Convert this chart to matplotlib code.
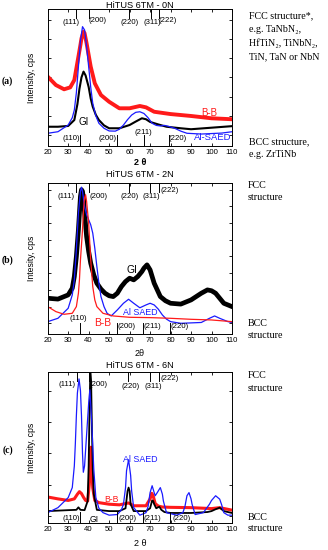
import matplotlib
matplotlib.use("Agg")
import matplotlib.pyplot as plt

# ---------------------------------------------------------------------------
# Data (intensity in arbitrary tick units)
# ---------------------------------------------------------------------------

FCC_HKL = ["(111)", "(200)", "(220)", "(311)", "(222)"]
BCC_HKL = ["(110)", "(200)", "(211)", "(220)"]

# panel (a) : HiTUS 6TM - 0N
A_BB_X = [20, 24, 28, 31, 33, 35, 36, 36.5, 37.5, 38, 39, 41, 43, 46, 50, 55, 60,
          65, 68, 72, 80, 90, 100, 110]
A_BB_Y = [3.04, 2.6, 2.38, 2.48, 2.86, 4.08, 4.7, 5.03, 5.38, 5.3, 4.77, 3.56,
          2.69, 2.08, 1.73, 1.39, 1.39, 1.51, 1.44, 1.21, 1.09, 0.99, 0.87, 0.82]
A_GI_X = [20, 25, 30, 33, 34.5, 35.5, 36.5, 37.5, 38.5, 40, 41, 42, 43.5, 45,
          47.5, 50, 55, 60, 63, 66, 68, 70, 74, 78, 85, 90, 100, 110]
A_GI_Y = [0.43, 0.43, 0.47, 0.78, 1.6, 2.4, 3.0, 3.3, 3.1, 2.5, 1.9, 1.47, 1.05,
          0.78, 0.5, 0.35, 0.35, 0.52, 0.7, 0.87, 0.82, 0.68, 0.55, 0.43, 0.35,
          0.3, 0.38, 0.46]
A_SAED_X = [20, 25, 30, 32, 33, 34, 35, 36, 37, 38, 39, 40, 41, 42, 43.5, 45,
            47.5, 50, 53, 55, 57, 59, 61, 63, 65, 67, 69, 71, 73, 75, 77, 79,
            82, 85, 88, 95, 105, 110]
A_SAED_Y = [0.09, 0.17, 0.52, 0.9, 1.3, 2.2, 3.56, 4.9, 5.64, 5.47, 4.6, 3.56,
            2.5, 1.65, 1.0, 0.61, 0.35, 0.21, 0.2, 0.3, 0.52, 0.8, 1.04, 1.18,
            1.21, 1.12, 0.9, 0.61, 0.5, 0.47, 0.5, 0.45, 0.35, 0.2, 0.09, 0.05,
            0.1, 0.17]

# panel (b) : HiTUS 6TM - 2N
B_GI_X = [20, 25, 30, 32, 33, 34, 35, 35.5, 36, 36.5, 37, 37.5, 38, 39, 40, 41,
          42.5, 44, 46, 48, 50, 52, 54, 56, 58, 60, 62, 64, 66, 67, 68.5, 70, 71,
          72, 73.5, 75, 77.5, 80, 85, 90, 95, 98, 100, 102, 104, 106, 108, 110]
B_GI_Y = [1.5, 1.45, 1.7, 2.1, 2.8, 4.0, 5.6, 6.6, 7.6, 8.0, 7.9, 7.4, 6.6, 5.2,
          4.3, 3.6, 2.9, 2.4, 2.05, 1.8, 1.65, 1.6, 1.8, 2.2, 2.5, 2.7, 2.6, 2.8,
          3.1, 3.3, 3.5, 3.2, 2.8, 2.4, 2.0, 1.6, 1.35, 1.2, 1.15, 1.4, 1.8, 2.0,
          1.95, 1.8, 1.5, 1.2, 1.1, 1.0]
B_SAED_X = [20, 25, 30, 32, 33, 34, 35, 36, 36.5, 37, 38, 39, 40, 41, 42, 43, 44,
            45, 46, 47.5, 49, 51, 54, 57, 59.5, 62, 65, 68, 70, 72, 74, 76, 78,
            80, 85, 95, 99, 101.5, 104, 108, 110]
B_SAED_Y = [0.1, 0.3, 0.9, 1.7, 2.6, 4.4, 6.6, 7.9, 8.15, 7.9, 7.0, 6.5, 6.2,
            5.9, 5.4, 4.5, 3.4, 2.4, 1.6, 1.0, 0.6, 0.44, 0.8, 1.2, 1.44, 1.2,
            0.93, 1.1, 1.2, 1.1, 0.85, 0.5, 0.25, 0.1, 0.0, 0.05, 0.3, 0.44, 0.3,
            0.1, 0.05]
B_BB_X = [20, 22, 24, 28, 32, 34, 35, 35.5, 36, 37, 37.5, 38, 38.5, 39, 40, 41,
          42, 43, 44, 47, 52, 60, 70, 80, 90, 100, 110]
B_BB_Y = [1.0, 0.85, 0.7, 0.54, 0.6, 1.0, 1.8, 2.6, 3.8, 5.6, 6.8, 7.5, 7.7, 7.3,
          6.0, 3.8, 2.2, 1.4, 1.0, 0.6, 0.44, 0.36, 0.34, 0.3, 0.24, 0.2, 0.1]

# panel (c) : HiTUS 6TM - 6N
C_SAED_X = [20, 25, 30, 32, 33, 33.5, 34, 34.5, 35.3, 36, 36.5, 37, 37.4, 38, 39,
            40, 40.6, 41.5, 42.5, 43.5, 45, 47, 50, 54, 56, 57, 58, 58.5, 59.5,
            60.5, 61, 62, 65, 68, 69, 70, 71, 72, 72.5, 73.5, 75, 76, 76.5, 78,
            83, 86, 87, 88, 89, 90, 90.5, 92, 96, 99, 100, 102, 104, 105, 106,
            108, 110]
C_SAED_Y = [0.11, 0.27, 0.59, 0.91, 1.6, 2.31, 3.2, 3.93, 4.38, 4.0, 3.2, 2.0,
            1.4, 1.6, 2.6, 3.6, 4.03, 3.0, 1.5, 0.6, 0.25, 0.11, 0.03, 0.05, 0.2,
            0.38, 0.9, 1.45, 1.8, 1.3, 0.8, 0.27, 0.03, 0.11, 0.3, 0.75, 0.97,
            0.75, 0.65, 0.75, 0.91, 0.7, 0.48, 0.11, 0.03, 0.11, 0.3, 0.65, 0.75,
            0.55, 0.38, 0.05, 0.11, 0.38, 0.5, 0.65, 0.54, 0.35, 0.11, 0.03, 0.03]
C_GI_X = [20, 30, 34, 35, 36, 38, 39.5, 40, 40.4, 40.8, 41.2, 41.6, 42, 42.5, 44,
          50, 55, 58, 59, 59.5, 60, 60.5, 62, 68, 70, 71, 71.5, 72, 73, 74.5,
          75.5, 77, 80, 90, 98, 100, 102, 104, 106, 110]
C_GI_Y = [0.16, 0.19, 0.2, 0.28, 0.2, 0.19, 0.48, 1.6, 3.3, 4.6, 4.3, 2.8, 1.5,
          0.7, 0.2, 0.16, 0.16, 0.25, 0.8, 0.91, 0.8, 0.38, 0.16, 0.16, 0.25, 0.5,
          0.48, 0.38, 0.25, 0.3, 0.2, 0.13, 0.1, 0.1, 0.13, 0.16, 0.22, 0.27,
          0.16, 0.1]
C_BB_X = [20, 25, 30, 33, 34.5, 35.5, 36.5, 37.5, 38.5, 39.5, 40.3, 40.8, 41.1,
          41.5, 42, 43, 45, 50, 55, 59.5, 62, 68, 70, 70.8, 71.5, 72.5, 74, 76,
          80, 90, 100, 104, 110]
C_BB_Y = [0.61, 0.55, 0.5, 0.55, 0.7, 0.78, 0.72, 0.6, 0.5, 0.48, 1.0, 1.7, 2.2,
          1.5, 0.9, 0.5, 0.43, 0.38, 0.36, 0.42, 0.33, 0.33, 0.55, 0.73, 0.65,
          0.4, 0.32, 0.29, 0.28, 0.27, 0.24, 0.27, 0.19]

# reflection positions (2 theta) for each panel
FCC_POS = [[34.0, 40.2, 59.5, 70.5, 74.2],
           [33.8, 40.2, 59.7, 70.2, 74.3],
           [34.4, 40.2, 59.2, 70.1, 74.3]]
BCC_POS = [[36.0, 54.0, 66.8, 79.4],
           [35.7, 54.0, 66.4, 79.8],
           [36.0, 54.0, 66.5, 79.5]]

# ---------------------------------------------------------------------------
# Layout (pixels of the 328 x 550 image)
# ---------------------------------------------------------------------------

W, H = 328, 550
X_LEFT, X_RIGHT = 47.7, 232.0
BLUE = "#1a1aff"
RED = "#ff1a1a"

plt.rcParams.update({
    "font.family": ["Liberation Sans", "DejaVu Sans"],
    "font.size": 6,
    "axes.linewidth": 0.7,
    "xtick.direction": "in",
    "ytick.direction": "in",
    "xtick.major.size": 2.5,
    "ytick.major.size": 2.5,
    "xtick.major.width": 0.6,
    "ytick.major.width": 0.6,
    "xtick.labelsize": 5.6,
})

SERIF = ["Liberation Serif", "DejaVu Serif"]


def fy(py):
    return 1 - py / H


def make_axes(fig, top, bottom, ylim, yticks):
    ax = fig.add_axes([X_LEFT / W, fy(bottom), (X_RIGHT - X_LEFT) / W,
                       (bottom - top) / H])
    ax.set_xlim(20, 110)
    ax.set_xticks(range(20, 111, 10))
    ax.set_ylim(*ylim)
    ax.set_yticks(yticks)
    ax.set_yticklabels([])
    ax.tick_params(top=True, right=True, pad=2)
    return ax


def markers(ax, hpx, fcc_pos, fcc_lab, bcc_pos, bcc_lab):
    tr = ax.get_xaxis_transform()
    for x in fcc_pos:
        ax.plot([x, x], [1, 1 - 9 / hpx], color="k", lw=0.7, transform=tr)
    for lab, (lx, dy) in zip(FCC_HKL, fcc_lab):
        ax.text(lx, 1 - dy / hpx, lab, transform=tr, ha="center", va="center",
                fontsize=5.6)
    for x in bcc_pos:
        ax.plot([x, x], [0, 11 / hpx], color="k", lw=0.7, transform=tr)
    for lab, (lx, dy) in zip(BCC_HKL, bcc_lab):
        ax.text(lx, dy / hpx, lab, transform=tr, ha="center", va="center",
                fontsize=5.6)


def side_text(lines, x=249):
    for txt, py in lines:
        fig.text(x / W, fy(py), txt, family=SERIF, fontsize=7.2,
                 ha="left", va="center")


def axis_labels(ax, hpx, xlab, xlab_px, ylab, **xkw):
    ax.set_xlabel(xlab, fontsize=6.5, va="center", **xkw)
    ax.xaxis.set_label_coords(0.5, -xlab_px / hpx)
    ax.set_ylabel(ylab, fontsize=6.2, va="center")
    ax.yaxis.set_label_coords(-16 / 184.3, 0.5)


fig = plt.figure(figsize=(W / 100, H / 100), dpi=100)

# ---------------------------------------------------------------- panel (a)
ax = make_axes(fig, 9, 146, (-0.573, 6.56), range(7))
ax.plot(A_BB_X, A_BB_Y, color=RED, lw=2.8)
ax.plot(A_GI_X, A_GI_Y, color="k", lw=1.5)
ax.plot(A_SAED_X, A_SAED_Y, color=BLUE, lw=0.9)
markers(ax, 137, FCC_POS[0],
        [(31.3, 14), (44.5, 12), (60.0, 14), (71.0, 14), (78.5, 11)],
        BCC_POS[0], [(31.3, 7), (49.1, 7), (66.8, 13.5), (83.4, 7)])
ax.text(99, 1.15, "B-B", color=RED, fontsize=7, ha="center", va="center")
ax.text(37.3, 0.69, "GI", color="k", fontsize=7, ha="center", va="center")
ax.text(100.4, -0.12, "Al-SAED", color=BLUE, fontsize=6.8, ha="center",
        va="center")
axis_labels(ax, 137, "2 θ", 17, "Intensity, cps", fontweight="bold")
fig.text(139.9 / W, fy(5), "HiTUS 6TM - 0N", fontsize=6.6, ha="center",
         va="center")

# ---------------------------------------------------------------- panel (b)
ax = make_axes(fig, 183, 334, (-0.64, 8.4), range(9))
ax.plot(B_GI_X, B_GI_Y, color="k", lw=3.4)
ax.plot(B_SAED_X, B_SAED_Y, color=BLUE, lw=0.9)
ax.plot(B_BB_X, B_BB_Y, color=RED, lw=0.9)
markers(ax, 151, FCC_POS[1],
        [(29.0, 14), (44.6, 13.5), (60.0, 14), (70.6, 14), (79.5, 8)],
        BCC_POS[1], [(34.8, 16), (58.4, 7), (70.9, 7), (84.6, 7)])
ax.text(61, 3.2, "GI", color="k", fontsize=7.4, ha="center", va="center")
ax.text(65, 0.63, "Al SAED", color=BLUE, fontsize=6.4, ha="center",
        va="center")
ax.text(47, 0.0, "B-B", color=RED, fontsize=7.4, ha="center", va="center")
axis_labels(ax, 151, "2θ", 20, "Intesity, cps")
fig.text(139.9 / W, fy(365), "HiTUS 6TM - 6N", fontsize=6.6, ha="center",
         va="center")
fig.text(139.9 / W, fy(175), "HiTUS 6TM - 2N", fontsize=6.6, ha="center",
         va="center")

# ---------------------------------------------------------------- panel (c)
ax = make_axes(fig, 372, 523, (-0.22, 4.6), range(5))
ax.plot(C_BB_X, C_BB_Y, color=RED, lw=2.2)
ax.plot(C_GI_X, C_GI_Y, color="k", lw=1.3)
ax.plot(C_SAED_X, C_SAED_Y, color=BLUE, lw=0.9)
markers(ax, 151, FCC_POS[2],
        [(29.6, 13), (44.6, 12), (60.3, 14.5), (71.6, 14.5), (79.5, 6)],
        BCC_POS[2], [(31.5, 5), (59.0, 5), (71.1, 5), (85.2, 5)])
ax.text(65, 1.81, "Al SAED", color=BLUE, fontsize=6.4, ha="center",
        va="center")
ax.text(51, 0.53, "B-B", color=RED, fontsize=6.2, ha="center", va="center")
ax.text(42.5, -0.1, "GI", color="k", fontsize=6.2, ha="center", va="center")
axis_labels(ax, 151, "2 θ", 21, "Intensity, cps")

# ---------------------------------------------------------------- side notes
side_text([("FCC structure*,", 16), ("e.g. TaNbN₂,", 29.5),
           ("HfTiN₂, TiNbN₂,", 43), ("TiN, TaN or NbN", 56.5),
           ("BCC structure,", 142), ("e.g. ZrTiNb", 154.5)])
side_text([("FCC", 185), ("structure", 197), ("BCC", 323),
           ("structure", 335)], x=248)
side_text([("FCC", 376), ("structure", 388.5), ("BCC", 517),
           ("structure", 528.5)], x=248)
for lab, py in [("(a)", 81), ("(b)", 260), ("(c)", 450)]:
    fig.text(7.5 / W, fy(py), lab, family=SERIF, fontsize=7, fontweight="bold",
             ha="center", va="center")

fig.savefig("out.png", dpi=100)
